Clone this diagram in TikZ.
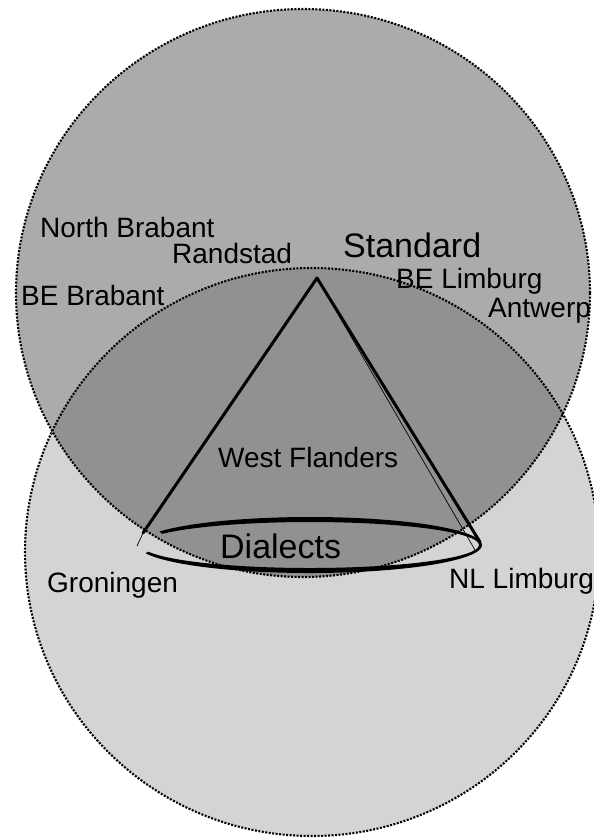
\documentclass[tikz,border=0pt]{standalone}
\usepackage{fontspec}
\setmainfont{Liberation Sans}
\definecolor{upgray}{gray}{0.67}
\definecolor{midgray}{gray}{0.57}
\definecolor{lowgray}{gray}{0.83}
\begin{document}
\begin{tikzpicture}[x=1pt,y=-1pt,
  lbl/.style={anchor=base west, inner sep=0pt, font=\fontsize{28}{30}\selectfont},
  biglbl/.style={anchor=base west, inner sep=0pt, font=\fontsize{34}{36}\selectfont},
  rim/.style={draw=black, line width=2.1pt, dash pattern=on 2pt off 1.5pt},
  coneline/.style={line width=3pt, line cap=round},
  thinline/.style={line width=0.7pt}]
\useasboundingbox (0,0) rectangle (594,839);
\fill[white] (0,0) rectangle (594,839);
% circles
\coordinate (lowc) at (312,552);
\coordinate (upc) at (303,293);
\fill[lowgray] (lowc) ellipse [x radius=287, y radius=284];
\fill[upgray] (upc) ellipse [x radius=287, y radius=284];
\begin{scope}
  \clip (lowc) ellipse [x radius=287, y radius=284];
  \fill[midgray] (upc) ellipse [x radius=287, y radius=284];
\end{scope}
\draw[rim] (lowc) ellipse [x radius=287, y radius=284];
\draw[rim] (upc) ellipse [x radius=287, y radius=284];
% cone
\coordinate (apex) at (317,278);
\coordinate (bl) at (143,533);
\coordinate (bltip) at (137,546);
\coordinate (br) at (480,542);
\coordinate (br2) at (475,550);
\coordinate (ellc) at (310,545);
\draw[coneline] (apex) -- (bl);
\draw[thinline] (bl) -- (bltip);
\draw[coneline] (apex) -- (br);
\draw[thinline] (apex) -- (br2);
\fill[black] ([shift={(209:172 and 28)}]ellc)
  arc[start angle=209, end angle=523, x radius=172, y radius=28]
  -- ([shift={(523:169 and 23)}]ellc)
  arc[start angle=523, end angle=209, x radius=169, y radius=23]
  -- cycle;
% labels
\node[lbl] (nb) at (40,237) {North Brabant};
\node[lbl] (rs) at (172,263) {Randstad};
\node[biglbl] (std) at (343,257) {Standard};
\node[lbl] (bel) at (396,288) {BE Limburg};
\node[lbl] (beb) at (21,305) {BE Brabant};
\node[lbl] (ant) at (488,317) {Antwerp};
\node[lbl] (wf) at (218,467) {West Flanders};
\node[biglbl] (dia) at (220,558) {Dialects};
\node[lbl] (gro) at (47,592) {Groningen};
\node[lbl] (nll) at (449,588) {NL Limburg};
\end{tikzpicture}
\end{document}
